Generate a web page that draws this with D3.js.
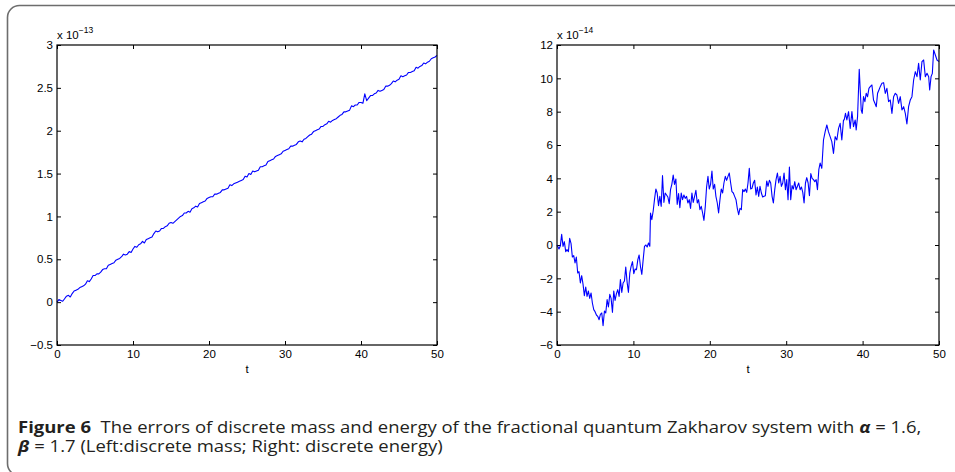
<!DOCTYPE html>
<html>
<head>
<meta charset="utf-8">
<script src="https://cdn.jsdelivr.net/npm/d3@7"></script>
<style>
  body { margin: 0; background: #fff; }
  svg { display: block; }
</style>
</head>
<body>
<svg id="fig" width="955" height="472"></svg>
<script>
// ---- data -------------------------------------------------------------
const timeTicks = [0, 10, 20, 30, 40, 50];
const massTicks = [-0.5, 0, 0.5, 1, 1.5, 2, 2.5, 3];
const energyTicks = [-6, -4, -2, 0, 2, 4, 6, 8, 10, 12];
const massExponent = "\u221213";
const energyExponent = "\u221214";

// error of the discrete mass (units of 1e-13) against t
const massPoints = [
  [0,0.00],[0.25,0.03],[0.5,0.02],[0.75,0.01],[1,0.04],[1.25,0.07],[1.5,0.08],[1.75,0.06],[2,0.10],[2.25,0.13],
  [2.5,0.14],[2.75,0.15],[3,0.17],[3.25,0.18],[3.5,0.19],[3.75,0.21],[4,0.25],[4.25,0.24],[4.5,0.27],[4.75,0.31],
  [5,0.31],[5.25,0.33],[5.5,0.33],[5.75,0.35],[6,0.38],[6.25,0.39],[6.5,0.39],[6.75,0.43],[7,0.44],[7.25,0.45],
  [7.5,0.46],[7.75,0.49],[8,0.50],[8.25,0.51],[8.5,0.53],[8.75,0.56],[9,0.55],[9.25,0.56],[9.5,0.59],[9.75,0.58],
  [10,0.62],[10.25,0.65],[10.5,0.64],[10.75,0.67],[11,0.68],[11.25,0.71],[11.5,0.69],[11.75,0.73],[12,0.74],[12.25,0.75],
  [12.5,0.76],[12.75,0.80],[13,0.83],[13.25,0.82],[13.5,0.83],[13.75,0.86],[14,0.86],[14.25,0.88],[14.5,0.89],[14.75,0.92],
  [15,0.93],[15.25,0.92],[15.5,0.94],[15.75,0.96],[16,0.98],[16.25,1.00],[16.5,1.01],[16.75,1.04],[17,1.04],[17.25,1.06],
  [17.5,1.05],[17.75,1.09],[18,1.10],[18.25,1.12],[18.5,1.11],[18.75,1.15],[19,1.16],[19.25,1.17],[19.5,1.18],[19.75,1.21],
  [20,1.22],[20.25,1.23],[20.5,1.23],[20.75,1.26],[21,1.26],[21.25,1.27],[21.5,1.28],[21.75,1.31],[22,1.31],[22.25,1.32],
  [22.5,1.33],[22.75,1.37],[23,1.36],[23.25,1.38],[23.5,1.39],[23.75,1.40],[24,1.41],[24.25,1.42],[24.5,1.43],[24.75,1.47],
  [25,1.46],[25.25,1.50],[25.5,1.49],[25.75,1.53],[26,1.52],[26.25,1.53],[26.5,1.54],[26.75,1.58],[27,1.58],[27.25,1.59],
  [27.5,1.60],[27.75,1.64],[28,1.65],[28.25,1.66],[28.5,1.67],[28.75,1.70],[29,1.71],[29.25,1.72],[29.5,1.73],[29.75,1.76],
  [30,1.77],[30.25,1.78],[30.5,1.79],[30.75,1.82],[31,1.82],[31.25,1.83],[31.5,1.84],[31.75,1.87],[32,1.88],[32.25,1.87],
  [32.5,1.90],[32.75,1.91],[33,1.93],[33.25,1.95],[33.5,1.96],[33.75,1.99],[34,2.00],[34.25,2.01],[34.5,2.02],[34.75,2.05],
  [35,2.05],[35.25,2.07],[35.5,2.08],[35.75,2.11],[36,2.10],[36.25,2.12],[36.5,2.13],[36.75,2.14],[37,2.16],[37.25,2.18],
  [37.5,2.19],[37.75,2.22],[38,2.22],[38.25,2.23],[38.5,2.24],[38.75,2.29],[39,2.28],[39.25,2.30],[39.5,2.30],[39.75,2.33],
  [40,2.33],[40.25,2.32],[40.5,2.43],[40.75,2.35],[41,2.38],[41.25,2.41],[41.5,2.41],[41.75,2.43],[42,2.44],[42.25,2.47],
  [42.5,2.46],[42.75,2.47],[43,2.48],[43.25,2.52],[43.5,2.52],[43.75,2.53],[44,2.55],[44.25,2.58],[44.5,2.57],[44.75,2.59],
  [45,2.60],[45.25,2.64],[45.5,2.63],[45.75,2.64],[46,2.65],[46.25,2.68],[46.5,2.68],[46.75,2.69],[47,2.70],[47.25,2.74],
  [47.5,2.73],[47.75,2.75],[48,2.76],[48.25,2.79],[48.5,2.78],[48.75,2.80],[49,2.81],[49.25,2.84],[49.5,2.85],[49.75,2.86],
  [50,2.88]
];

// error of the discrete energy (units of 1e-14) against t
const energyPoints = [
  [0,0.00],[0.26,-0.24],[0.44,-0.04],[0.61,0.64],[0.79,-0.08],[0.96,0.20],[1.14,-0.40],[1.31,-0.28],[1.49,-0.40],[1.66,0.40],
  [1.84,0.08],[2.01,-0.72],[2.19,-0.64],[2.36,-1.08],[2.53,-0.72],[2.71,-1.68],[2.88,-1.60],[3.06,-2.28],[3.23,-1.84],[3.41,-2.36],
  [3.58,-3.04],[3.76,-2.52],[3.93,-3.08],[4.11,-2.76],[4.28,-3.20],[4.46,-2.88],[4.63,-3.48],[4.81,-3.88],[4.98,-4.00],[5.16,-4.20],
  [5.33,-4.28],[5.51,-4.48],[5.68,-4.16],[5.86,-4.08],[6.03,-4.84],[6.21,-3.96],[6.38,-4.08],[6.56,-3.28],[6.73,-3.72],[6.91,-2.96],
  [7.08,-3.20],[7.26,-4.04],[7.43,-2.76],[7.60,-3.32],[7.78,-2.92],[7.95,-2.68],[8.13,-3.08],[8.30,-2.08],[8.48,-2.84],[8.65,-2.28],
  [8.83,-2.16],[9.00,-1.32],[9.18,-2.24],[9.35,-2.84],[9.53,-1.68],[9.70,-1.28],[9.88,-1.00],[10.05,-1.72],[10.23,-1.44],[10.40,-1.48],
  [10.58,-0.88],[10.75,-0.60],[10.93,-1.32],[11.10,-1.76],[11.28,-0.88],[11.45,-0.08],[11.63,0.00],[11.80,-0.12],[11.98,0.12],[12.15,-0.08],
  [12.24,1.92],[12.41,1.52],[12.59,2.04],[12.76,2.72],[12.94,3.36],[13.11,3.12],[13.29,2.36],[13.46,2.92],[13.64,2.32],[13.81,4.16],
  [13.99,2.56],[14.16,3.12],[14.34,3.00],[14.51,2.88],[14.69,2.48],[14.86,3.32],[15.03,3.64],[15.21,4.20],[15.38,3.64],[15.56,3.96],
  [15.73,2.44],[15.91,3.08],[16.08,2.24],[16.26,3.12],[16.43,2.72],[16.61,3.00],[16.78,2.80],[16.96,2.92],[17.13,2.52],[17.31,2.72],
  [17.48,2.20],[17.66,3.12],[17.83,2.56],[18.01,2.92],[18.18,3.28],[18.36,2.52],[18.53,2.72],[18.71,2.12],[18.88,2.32],[19.06,1.92],
  [19.23,1.48],[19.41,2.32],[19.58,3.48],[19.76,4.12],[19.93,3.36],[20.10,3.64],[20.28,4.44],[20.45,3.36],[20.63,3.64],[20.80,2.92],
  [20.98,2.52],[21.15,1.92],[21.33,2.72],[21.50,3.36],[21.68,3.12],[21.85,3.72],[22.03,4.12],[22.20,3.88],[22.38,4.12],[22.55,4.32],
  [22.73,3.72],[22.90,3.20],[23.08,3.12],[23.25,2.92],[23.43,2.72],[23.60,2.20],[23.78,1.82],[23.95,2.20],[24.13,2.12],[24.30,3.32],
  [24.48,3.20],[24.65,3.36],[24.83,3.16],[25.00,3.72],[25.17,4.60],[25.35,3.36],[25.52,3.40],[25.70,3.72],[25.87,3.88],[26.05,3.00],
  [26.22,3.48],[26.40,2.92],[26.57,3.52],[26.75,3.12],[26.92,2.88],[27.10,2.92],[27.27,2.96],[27.45,3.84],[27.62,3.52],[27.80,3.88],
  [27.97,3.72],[28.15,2.92],[28.32,2.52],[28.50,3.32],[28.67,3.92],[28.85,4.32],[29.02,3.72],[29.20,4.12],[29.37,3.52],[29.55,3.72],
  [29.72,4.32],[29.90,3.32],[30.07,3.92],[30.24,2.72],[30.42,4.68],[30.59,2.72],[30.77,3.56],[30.94,3.36],[31.12,3.80],[31.29,3.32],
  [31.47,3.52],[31.64,3.72],[31.82,3.32],[31.99,3.48],[32.17,3.16],[32.34,2.52],[32.52,3.72],[32.69,4.04],[32.87,3.72],[33.04,2.96],
  [33.22,4.28],[33.39,4.00],[33.57,3.92],[33.74,3.80],[33.92,3.92],[34.09,3.32],[34.27,4.52],[34.44,4.92],[34.66,4.60],[34.88,6.30],
  [35.10,6.80],[35.32,7.20],[35.53,6.80],[35.75,6.50],[35.97,6.20],[36.19,5.50],[36.41,6.50],[36.63,6.30],[36.85,7.00],[37.06,7.30],
  [37.28,6.30],[37.50,7.50],[37.59,7.50],[37.76,7.90],[37.94,7.50],[38.16,8.00],[38.38,7.00],[38.60,8.00],[38.81,7.10],[39.03,7.50],
  [39.16,6.90],[39.34,7.70],[39.56,10.54],[39.69,9.30],[39.82,8.10],[39.95,7.90],[40.12,8.90],[40.30,8.60],[40.47,9.10],[40.65,8.90],
  [40.83,9.40],[41.00,9.50],[41.22,9.60],[41.43,8.70],[41.61,8.50],[41.79,8.30],[41.96,9.10],[42.14,9.30],[42.31,9.50],[42.53,9.70],
  [42.75,9.74],[42.97,9.10],[43.18,9.40],[43.40,8.60],[43.62,8.70],[43.84,7.90],[44.06,8.90],[44.28,9.10],[44.49,9.00],[44.71,8.50],
  [44.93,8.90],[45.15,8.10],[45.37,8.30],[45.59,7.90],[45.80,7.26],[46.02,8.30],[46.24,8.70],[46.46,8.90],[46.68,9.90],[46.90,10.40],
  [47.12,10.10],[47.33,10.90],[47.55,9.90],[47.77,11.00],[47.99,11.10],[48.21,10.10],[48.43,10.30],[48.65,10.10],[48.78,9.30],[48.96,10.10],
  [49.13,10.30],[49.30,11.70],[49.52,11.40],[49.74,11.10],[50.00,11.00]
];

// ---- drawing ------------------------------------------------------------
const svg = d3.select("#fig");
const tickFont = "Liberation Sans, Arial, Helvetica, sans-serif";
const tickSize = 11.5;

// outer rounded frame
svg.append("rect")
  .attr("x", 7.5).attr("y", 5.5)
  .attr("width", 980).attr("height", 470)
  .attr("rx", 12).attr("ry", 12)
  .attr("fill", "none")
  .attr("stroke", "#6d6d6d")
  .attr("stroke-width", 1.6);

function drawPanel(cfg) {
  const x = d3.scaleLinear().domain([0, 50]).range([cfg.left, cfg.right]);
  const y = d3.scaleLinear().domain(cfg.yDomain).range([cfg.bottom, cfg.top]);
  const g = svg.append("g");

  const styleAxis = sel => {
    sel.attr("font-family", tickFont).attr("font-size", tickSize);
    sel.select(".domain").remove();
    sel.selectAll(".tick line").attr("stroke", "#000").attr("stroke-width", 1);
    sel.selectAll(".tick text").attr("fill", "#000");
  };

  // ticks point inward on all four sides
  g.append("g").attr("transform", `translate(0,${cfg.bottom})`)
    .call(d3.axisBottom(x).tickValues(timeTicks).tickSize(-4).tickPadding(5)
      .tickFormat(d3.format("d")))
    .call(styleAxis);
  g.append("g").attr("transform", `translate(0,${cfg.top})`)
    .call(d3.axisTop(x).tickValues(timeTicks).tickSize(-4).tickFormat(""))
    .call(styleAxis);
  g.append("g").attr("transform", `translate(${cfg.left},0)`)
    .call(d3.axisLeft(y).tickValues(cfg.yTicks).tickSize(-4).tickPadding(4)
      .tickFormat(d => d3.format("")(d).replace("-", "\u2212")))
    .call(styleAxis);
  g.append("g").attr("transform", `translate(${cfg.right},0)`)
    .call(d3.axisRight(y).tickValues(cfg.yTicks).tickSize(-4).tickFormat(""))
    .call(styleAxis);

  // data line
  const line = d3.line().x(d => x(d[0])).y(d => y(d[1]));
  g.append("path")
    .datum(cfg.points)
    .attr("d", line)
    .attr("fill", "none")
    .attr("stroke", "#0000ff")
    .attr("stroke-width", 1.1)
    .attr("stroke-linejoin", "round");

  // axes box
  g.append("rect")
    .attr("x", cfg.left).attr("y", cfg.top)
    .attr("width", cfg.right - cfg.left).attr("height", cfg.bottom - cfg.top)
    .attr("fill", "none").attr("stroke", "#000").attr("stroke-width", 1.2);

  // exponent label above the y axis
  const ex = g.append("text")
    .attr("x", cfg.left).attr("y", cfg.top - 6)
    .attr("font-family", tickFont).attr("font-size", tickSize).attr("fill", "#000");
  ex.append("tspan").text("x 10");
  ex.append("tspan").attr("dy", -6).attr("font-size", 8.5).text(cfg.exponent);

  // x label
  g.append("text")
    .attr("x", (cfg.left + cfg.right) / 2).attr("y", cfg.bottom + 28)
    .attr("text-anchor", "middle")
    .attr("font-family", tickFont).attr("font-size", tickSize).attr("fill", "#000")
    .text("t");
}

drawPanel({ left: 57, right: 437, top: 45, bottom: 345,
  yDomain: [-0.5, 3], yTicks: massTicks, points: massPoints, exponent: massExponent });
drawPanel({ left: 557, right: 939, top: 45, bottom: 345,
  yDomain: [-6, 12], yTicks: energyTicks, points: energyPoints, exponent: energyExponent });

// ---- caption ---------------------------------------------------------------
const capFont = "Open Sans, Noto Sans, sans-serif";
const cap1 = svg.append("text")
  .attr("font-family", capFont).attr("font-size", 15.5).attr("fill", "#231f20");
cap1.append("tspan").attr("font-weight", "bold").text("Figure 6");
cap1.append("tspan").attr("dx", 8)
  .text("The errors of discrete mass and energy of the fractional quantum Zakharov system with ");
cap1.append("tspan").attr("font-weight", "bold").attr("font-style", "italic").text("\u03b1");
cap1.append("tspan").text(" = 1.6,");

const cap2 = svg.append("text")
  .attr("font-family", capFont).attr("font-size", 15.5).attr("fill", "#231f20");
cap2.append("tspan").attr("font-weight", "bold").attr("font-style", "italic").text("\u03b2");
cap2.append("tspan").text(" = 1.7 (Left:discrete mass; Right: discrete energy)");

// condense the caption horizontally to its column width
const w1 = cap1.node().getComputedTextLength();
const s = 894 / w1;
cap1.attr("transform", `translate(18,433) scale(${s},1)`);
cap2.attr("transform", `translate(18,452) scale(${s},1)`);
</script>
</body>
</html>
